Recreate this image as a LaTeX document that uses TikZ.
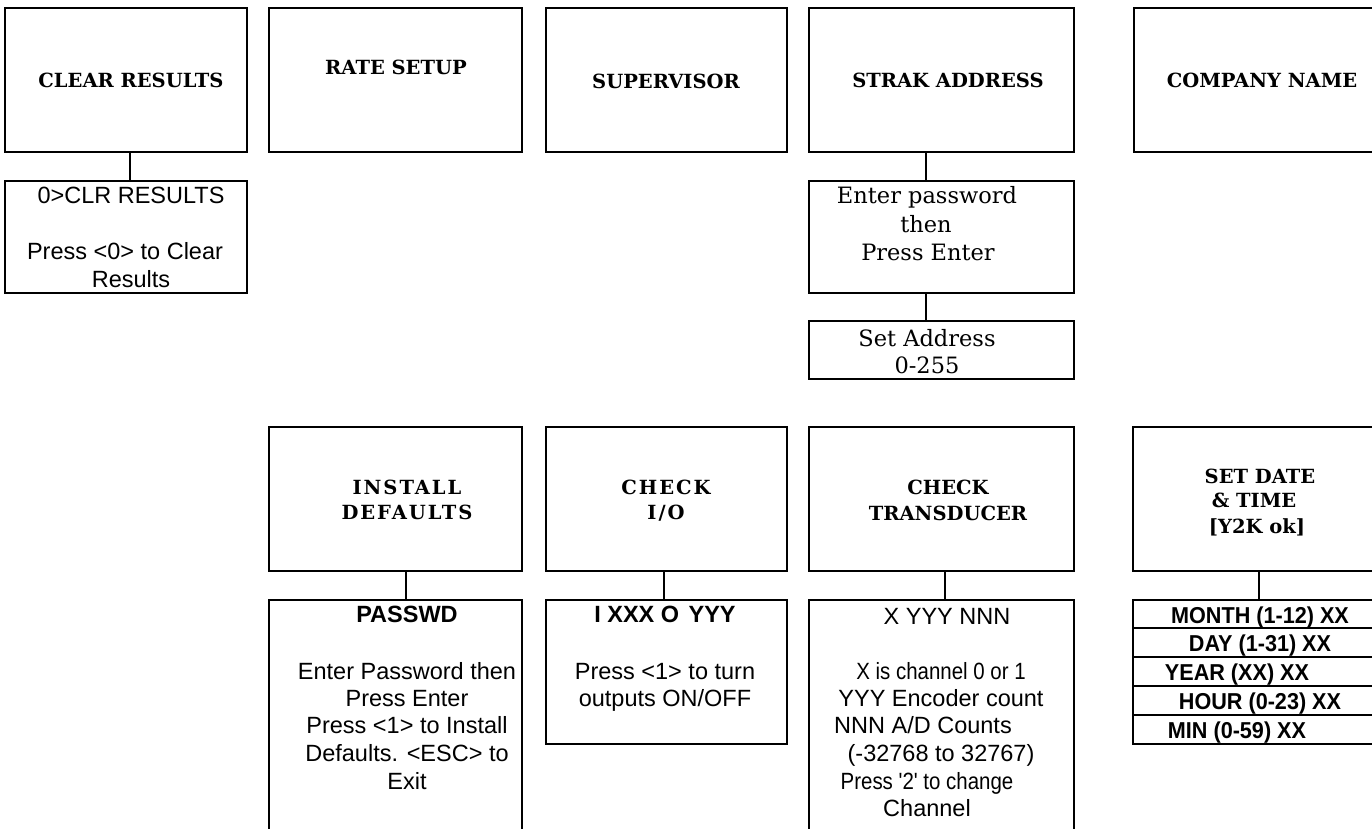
\documentclass[tikz,border=0pt]{standalone}
\usepackage{fontspec}
\setmainfont{DejaVu Serif}
\newfontfamily\sansfam{Liberation Sans}
\newfontfamily\sansnarrowfam{Liberation Sans}[FakeStretch=0.87]
\newfontfamily\sansnarrowbfam{Liberation Sans}[FakeStretch=0.94]
\newfontfamily\spacedfam{DejaVu Serif}[LetterSpace=10]
\newcommand\mytext[5]{\node[#2, anchor=base] (#1) at (#3,#4) {#5};}
\begin{document}
\begin{tikzpicture}[x=1pt, y=-1pt,
  box/.style={draw, line width=1.6pt, rectangle, inner sep=0pt},
  link/.style={line width=1.1pt},
  ttl/.style={font=\fontsize{19.5}{24}\selectfont\bfseries, inner sep=0pt},
  ttlsp/.style={font=\spacedfam\fontsize{19.5}{24}\selectfont\bfseries, inner sep=0pt},
  ser/.style={font=\fontsize{22.5}{27}\selectfont, inner sep=0pt},
  sf/.style={font=\sansfam\fontsize{23.5}{27}\selectfont, inner sep=0pt},
  sfb/.style={font=\sansfam\fontsize{23.5}{27}\selectfont\bfseries, inner sep=0pt},
  sfn/.style={font=\sansnarrowfam\fontsize{23.5}{27}\selectfont, inner sep=0pt},
  sfnb/.style={font=\sansnarrowbfam\fontsize{23}{27}\selectfont\bfseries, inner sep=0pt}]
\useasboundingbox (0,0) rectangle (1372,829);
\clip (0,0) rectangle (1372,829);
% top row
\node[box, minimum width=242pt, minimum height=144pt] (A1) at (126,80) {};
\node[box, minimum width=253pt, minimum height=144pt] (A2) at (395.5,80) {};
\node[box, minimum width=241pt, minimum height=144pt] (A3) at (666.5,80) {};
\node[box, minimum width=265pt, minimum height=144pt] (A4) at (941.5,80) {};
\node[box, minimum width=286pt, minimum height=144pt] (A5) at (1277,80) {};
\mytext{tA1}{ttl}{131}{88}{CLEAR RESULTS}
\mytext{tA2}{ttl}{396}{75}{RATE SETUP}
\mytext{tA3}{ttl}{666}{89}{SUPERVISOR}
\mytext{tA4}{ttl}{948}{88}{STRAK ADDRESS}
\mytext{tA5}{ttl}{1262}{88}{COMPANY NAME}
% second row
\node[box, minimum width=242pt, minimum height=112pt] (B1) at (126,237) {};
\node[box, minimum width=265pt, minimum height=112pt] (B4) at (941.5,237) {};
\node[box, minimum width=265pt, minimum height=58pt] (C4) at (941.5,350) {};
\mytext{tB1a}{sf}{131}{204}{0>CLR RESULTS}
\mytext{tB1b}{sf}{125}{259}{Press <0> to Clear}
\mytext{tB1c}{sf}{131}{287}{Results}
\mytext{tB4a}{ser}{927}{204}{Enter password}
\mytext{tB4b}{ser}{926}{232}{then}
\mytext{tB4c}{ser}{928}{260}{Press Enter}
\mytext{tC4a}{ser}{927}{346}{Set Address}
\mytext{tC4b}{ser}{927}{373}{0-255}
\draw[link] ([xshift=4pt]A1.south) -- ([xshift=4pt]B1.north);
\draw[link] ([xshift=-15.5pt]A4.south) -- ([xshift=-15.5pt]B4.north);
\draw[link] ([xshift=-15.5pt]B4.south) -- ([xshift=-15.5pt]C4.north);
% third row
\node[box, minimum width=253pt, minimum height=144pt] (D2) at (395.5,499) {};
\node[box, minimum width=241pt, minimum height=144pt] (D3) at (666.5,499) {};
\node[box, minimum width=265pt, minimum height=144pt] (D4) at (941.5,499) {};
\node[box, minimum width=287pt, minimum height=144pt] (D5) at (1276.5,499) {};
\mytext{tD2a}{ttlsp}{407}{494}{INSTALL}
\mytext{tD2b}{ttlsp}{407}{519}{DEFAULTS}
\mytext{tD3a}{ttlsp}{666}{494}{CHECK}
\mytext{tD3b}{ttlsp}{666}{519}{I/O}
\mytext{tD4a}{ttl}{948}{494}{CHECK}
\mytext{tD4b}{ttl}{948}{520}{TRANSDUCER}
\mytext{tD5a}{ttl}{1260}{483}{SET DATE}
\mytext{tD5b}{ttl}{1254}{507}{\& TIME}
\mytext{tD5c}{ttl}{1257}{533}{[Y2K ok]}
% fourth row
\node[box, minimum width=253pt, minimum height=280pt] (E2) at (395.5,740) {};
\node[box, minimum width=241pt, minimum height=144pt] (E3) at (666.5,672) {};
\node[box, minimum width=265pt, minimum height=280pt] (E4) at (941.5,740) {};
\node[box, minimum width=287pt, minimum height=28pt] (R1) at (1276.5,614) {};
\node[box, minimum width=287pt, minimum height=29pt] (R2) at (1276.5,642.5) {};
\node[box, minimum width=287pt, minimum height=29pt] (R3) at (1276.5,671.5) {};
\node[box, minimum width=287pt, minimum height=29pt] (R4) at (1276.5,700.5) {};
\node[box, minimum width=287pt, minimum height=29pt] (R5) at (1276.5,729.5) {};
\draw[link] ([xshift=10.5pt]D2.south) -- ([xshift=10.5pt]E2.north);
\draw[link] ([xshift=-2.5pt]D3.south) -- ([xshift=-2.5pt]E3.north);
\draw[link] ([xshift=3.5pt]D4.south) -- ([xshift=3.5pt]E4.north);
\draw[link] ([xshift=-17.5pt]D5.south) -- ([xshift=-17.5pt]R1.north);
\mytext{tE2a}{sfb}{407}{622}{PASSWD}
\mytext{tE2b}{sf}{407}{679}{Enter Password then}
\mytext{tE2c}{sf}{407}{706}{Press Enter}
\mytext{tE2d}{sf}{407}{733}{Press <1> to Install}
\mytext{tE2e}{sf}{407}{761}{Defaults. <ESC> to}
\mytext{tE2f}{sf}{407}{789}{Exit}
\mytext{tE3a}{sfb}{665}{622}{I XXX O\hspace{0.4em}YYY}
\mytext{tE3b}{sf}{665}{679}{Press <1> to turn}
\mytext{tE3c}{sf}{665}{706}{outputs ON/OFF}
\mytext{tE4a}{sf}{947}{624}{X YYY NNN}
\mytext{tE4b}{sfn}{941}{679}{X is channel 0 or 1}
\mytext{tE4c}{sf}{941}{706}{YYY Encoder count}
\mytext{tE4d}{sf}{923}{733}{NNN A/D Counts}
\mytext{tE4e}{sf}{941}{761}{(-32768 to 32767)}
\mytext{tE4f}{sfn}{927}{789}{Press '2' to change}
\mytext{tE4g}{sf}{927}{816}{Channel}
\mytext{tR1}{sfnb}{1260}{623}{MONTH (1-12) XX}
\mytext{tR2}{sfnb}{1260}{651}{DAY (1-31) XX}
\mytext{tR3}{sfnb}{1237}{680}{YEAR (XX) XX}
\mytext{tR4}{sfnb}{1260}{709}{HOUR (0-23) XX}
\mytext{tR5}{sfnb}{1237}{738}{MIN (0-59) XX}
\end{tikzpicture}
\end{document}
